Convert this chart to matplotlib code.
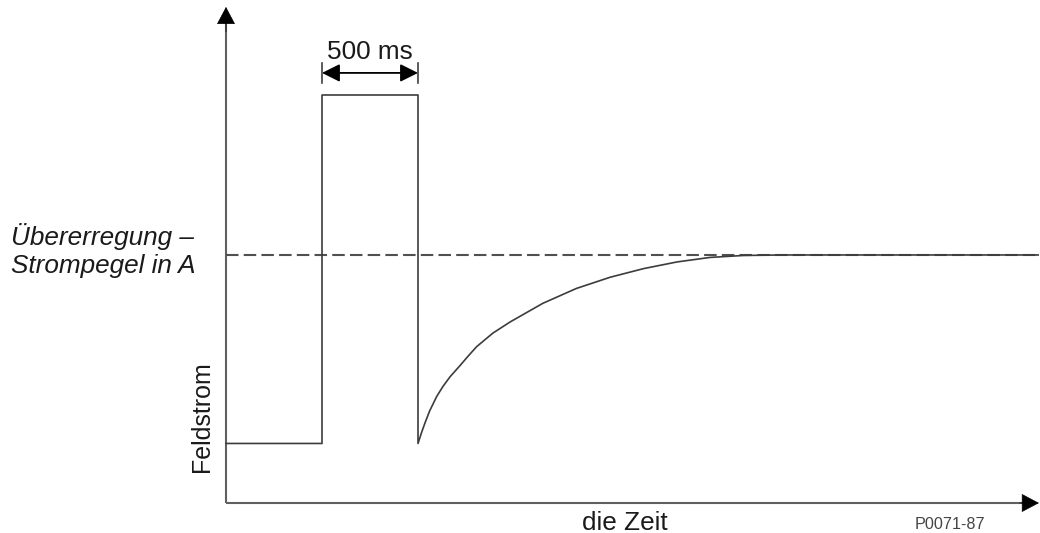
import matplotlib
matplotlib.use("Agg")
from matplotlib import pyplot as plt

plt.rcParams['font.family'] = ['Liberation Sans', 'DejaVu Sans']

# field current trace (time in ms, current relative to over-excitation level)
time_ms = [0, 500, 500, 1000, 1000, 1019, 1036, 1060, 1097, 1130, 1167, 1220,
           1262, 1305, 1390, 1480, 1650, 1825, 2000, 2175, 2350, 2520, 2695,
           2900, 4230]
field = [0.24, 0.24, 1.645, 1.645, 0.24, 0.285, 0.322, 0.37, 0.429, 0.47, 0.509,
         0.555, 0.593, 0.63, 0.685, 0.73, 0.805, 0.865, 0.91, 0.945, 0.972,
         0.99, 0.998, 1.0, 1.0]

level = 1.0             # over-excitation current level (dashed)
pulse = [500, 1000]     # 500 ms pulse
t_end = 4234
y_top = 2.0

W, H = 1040, 533
fig = plt.figure(figsize=(W / 100, H / 100), dpi=100)
ax = fig.add_axes([0, 0, 1, 1])
ax.axis('off')
ax.set_xlim(-1177.1, 4239.6)
ax.set_ylim(-0.121, 2.028)

axis_col = '#606060'
line_col = '#3c3c3c'

# axes lines + arrow heads
ax.plot([0, t_end - 60], [0, 0], color=axis_col, lw=1.5, solid_capstyle='butt')
ax.plot([0, 0], [0, y_top - 0.05], color=axis_col, lw=1.5, solid_capstyle='butt')
head = dict(arrowstyle='-|>,head_length=1.15,head_width=0.61', mutation_scale=10,
            lw=0.5, color='black', shrinkA=0, shrinkB=0)
ax.annotate('', xy=(t_end, 0), xytext=(t_end - 100, 0), arrowprops=head)
ax.annotate('', xy=(0, y_top), xytext=(0, y_top - 0.1), arrowprops=head)

# dashed over-excitation level
ax.plot([0, 4230], [level, level], color='#505050', lw=1.5,
        linestyle=(0, (6, 2.5)))

# field current
ax.plot(time_ms, field, color=line_col, lw=1.2, solid_joinstyle='round')

# 500 ms dimension
dim_y = 1.734
ax.annotate('', xy=(pulse[1], dim_y), xytext=(pulse[0], dim_y),
            arrowprops=dict(arrowstyle='<|-|>,head_length=1.08,head_width=0.54',
                            mutation_scale=10, lw=1.3, color='black',
                            shrinkA=0, shrinkB=0))
for t in pulse:
    ax.plot([t, t], [1.694, 1.774], color='#404040', lw=1.2)
ax.text(sum(pulse) / 2, 1.790, '500 ms', ha='center', va='baseline', fontsize=18.8,
        color='#1a1a1a')

# labels (pixel positions converted to figure fractions)
def fx(px):
    return px / W

def fy(py):
    return 1 - py / H

fig.text(fx(11), fy(245), 'Übererregung –', fontsize=18.8, style='italic',
         ha='left', va='baseline', color='#1a1a1a')
fig.text(fx(11), fy(273), 'Strompegel in A', fontsize=18.8, style='italic',
         ha='left', va='baseline', color='#1a1a1a')
fig.text(fx(202), fy(417), 'Feldstrom', fontsize=18, rotation=90,
         ha='center', va='center', color='#1a1a1a')
fig.text(fx(625), fy(530), 'die Zeit', fontsize=18.8, ha='center', va='baseline',
         color='#1a1a1a')
fig.text(fx(950), fy(529), 'P0071-87', fontsize=11.6, ha='center', va='baseline',
         color='#444444')

fig.savefig('out.png', dpi=100)
